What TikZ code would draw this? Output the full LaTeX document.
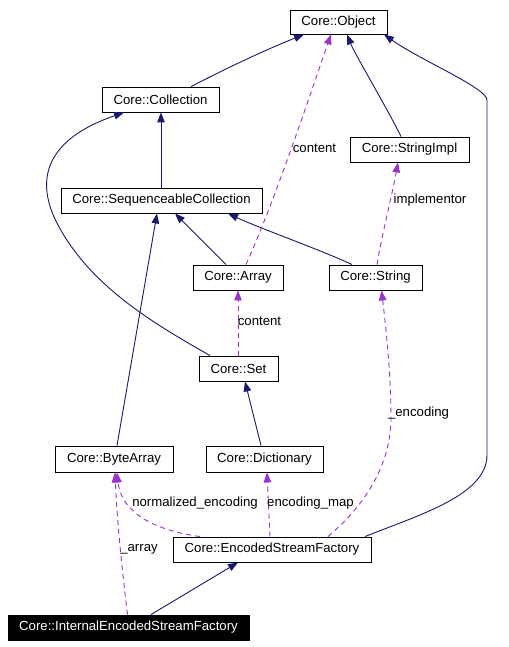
\documentclass[tikz,border=0pt]{standalone}
\usepackage{fontspec}
\setmainfont{Liberation Sans}
\usetikzlibrary{arrows.meta}
\definecolor{inh}{HTML}{191970}
\definecolor{use}{HTML}{9A32CD}
\tikzset{
  box/.style={draw=black, line width=0.9pt, fill=white, inner sep=0pt, font=\fontsize{13.2}{15}\selectfont, anchor=center},
  ibox/.style={box, fill=black, text=white},
  inhe/.style={draw=inh, line width=0.9pt, -{Triangle[length=10pt,width=7.5pt]}},
  usee/.style={draw=use, line width=0.9pt, dash pattern=on 5pt off 4pt, -{Triangle[length=10pt,width=7.5pt,fill=use]}},
  lbl/.style={font=\fontsize{13.2}{15}\selectfont, text=black, inner sep=0pt}
}
\begin{document}
\begin{tikzpicture}[x=1pt,y=-1pt]
\useasboundingbox (0,0) rectangle (508,647);
\fill[white] (0,0) rectangle (508,647);
% nodes
\node[box, minimum width=97pt, minimum height=24pt] (obj) at (338.5,22) {Core::Object};
\node[box, minimum width=117pt, minimum height=25pt] (coll) at (160.5,99.5) {Core::Collection};
\node[box, minimum width=119pt, minimum height=25pt] (simpl) at (409.5,149.5) {Core::StringImpl};
\node[box, minimum width=201pt, minimum height=25pt] (seq) at (161.5,200.5) {Core::SequenceableCollection};
\node[box, minimum width=90pt, minimum height=25pt] (arr) at (238,277.5) {Core::Array};
\node[box, minimum width=93pt, minimum height=25pt] (str) at (375.5,277.5) {Core::String};
\node[box, minimum width=79pt, minimum height=25pt] (set) at (238.5,368.5) {Core::Set};
\node[box, minimum width=118pt, minimum height=26pt] (barr) at (114,459) {Core::ByteArray};
\node[box, minimum width=117pt, minimum height=26pt] (dict) at (264.5,459) {Core::Dictionary};
\node[box, minimum width=198pt, minimum height=25pt] (esf) at (272,549.5) {Core::EncodedStreamFactory};
\node[ibox, minimum width=241pt, minimum height=25pt] (iesf) at (128.5,627.5) {Core::InternalEncodedStreamFactory};
% inheritance edges
\draw[inhe] ([xshift=30.5pt]coll.north) .. controls +(25,-13) and +(-45,18) .. ([xshift=-34.5pt]obj.south);
\draw[inhe] ([xshift=-0.5pt]seq.north) -- ([xshift=0.5pt]coll.south);
\draw[inhe] ([xshift=-28.5pt]set.north) .. controls +(-60,-34) and +(32,60) .. (58,225) .. controls (42,195) and (30,145) .. ([xshift=-36.5pt]coll.south);
\draw[inhe] ([xshift=-8.5pt]simpl.north) .. controls +(-12,-25) and +(8,20) .. ([xshift=8.5pt]obj.south);
\draw[inhe] ([xshift=93pt]esf.north) .. controls +(55,-22) and +(0,40) .. (487,455) -- (487,100) .. controls (487,88) and (420,60) .. ([xshift=45.5pt]obj.south);
\draw[inhe] ([xshift=3pt]barr.north) -- ([xshift=-4.5pt]seq.south);
\draw[inhe] ([xshift=-12pt]arr.north) -- ([xshift=13.5pt]seq.south);
\draw[inhe] ([xshift=-23.5pt]str.north) .. controls +(-32,-15) and +(32,15) .. ([xshift=66.5pt]seq.south);
\draw[inhe] ([xshift=-3.5pt]dict.north) -- ([xshift=6.5pt]set.south);
\draw[inhe] ([xshift=22.5pt]iesf.north) -- ([xshift=-34pt]esf.south);
% usage edges
\draw[usee] ([xshift=8pt]arr.north) .. controls +(29,-65) and +(-26,75) .. ([xshift=-7.5pt]obj.south);
\node[lbl] (l1) at (314.5,148) {content};
\draw[usee] ([xshift=1.5pt]str.north) .. controls +(6,-35) and +(-6,33) .. ([xshift=-11.5pt]simpl.south);
\node[lbl] (l2) at (430,200) {implementor};
\draw[usee] ([xshift=-0.5pt]set.north) -- (arr.south);
\node[lbl] (l3) at (259.5,321) {content};
\draw[usee] ([xshift=56pt]esf.north) .. controls +(32,-27) and +(-1,50) .. (391,420) .. controls (391,370) and (385,320) .. ([xshift=6pt]str.south);
\node[lbl] (l4) at (418.5,413) {\_encoding};
\draw[usee] ([xshift=-72pt]esf.north) .. controls +(-50,-7) and +(4,38) .. ([xshift=3pt]barr.south);
\node[lbl] (l5) at (195,503) {normalized\_encoding};
\draw[usee] ([xshift=-2pt]esf.north) -- ([xshift=2.5pt]dict.south);
\node[lbl] (l6) at (310.5,503) {encoding\_map};
\draw[usee] ([xshift=-1pt]iesf.north) .. controls +(-5.5,-45) and +(2,48) .. ([xshift=1pt]barr.south);
\node[lbl] (l7) at (139,549) {\_array};
\end{tikzpicture}
\end{document}
